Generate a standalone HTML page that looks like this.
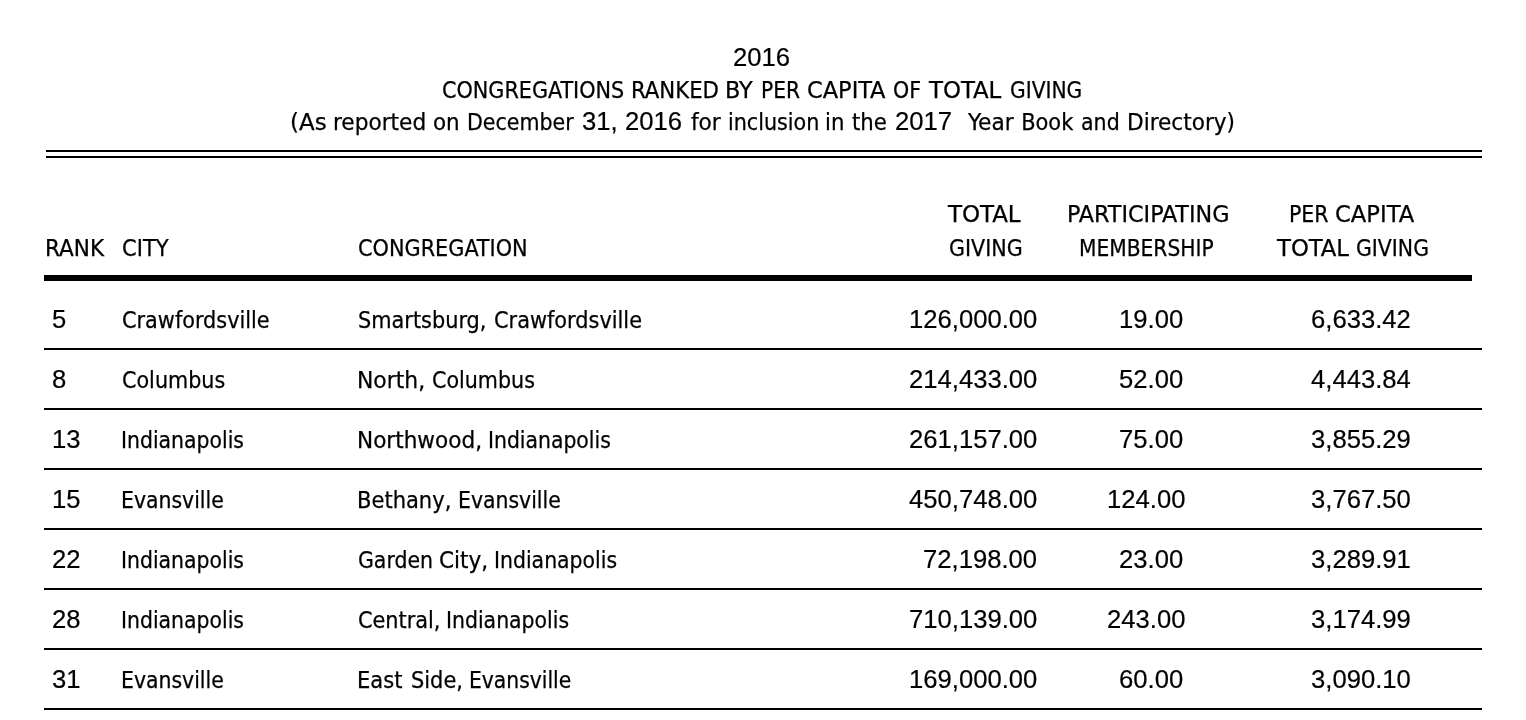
<!DOCTYPE html>
<html lang="en">
<head>
<meta charset="utf-8">
<title>2016 Congregations Ranked by Per Capita of Total Giving</title>
<style>
html,body{margin:0;padding:0;background:#fff;}
body{width:1526px;height:720px;position:relative;overflow:hidden;color:#000;}
.t{position:absolute;white-space:pre;font-size:23.3px;line-height:28px;height:28px;transform-origin:0 0;}
.caps,.text{font-family:"DejaVu Sans Condensed", "DejaVu Sans", "Liberation Sans", sans-serif;-webkit-text-stroke:0.25px #000;}
.num{font-family:"Liberation Sans", "DejaVu Sans", sans-serif;font-size:25px;-webkit-text-stroke:0.2px #000;}
.r{position:absolute;background:#000;}
</style>
</head>
<body>
<div class="r" style="left:46px;top:150px;width:1436px;height:2px"></div>
<div class="r" style="left:46px;top:156px;width:1436px;height:2px"></div>
<div class="r" style="left:44px;top:275px;width:1428px;height:6px"></div>
<div class="r" style="left:44px;top:348px;width:1438px;height:2px"></div>
<div class="r" style="left:44px;top:408px;width:1438px;height:2px"></div>
<div class="r" style="left:44px;top:468px;width:1438px;height:2px"></div>
<div class="r" style="left:44px;top:528px;width:1438px;height:2px"></div>
<div class="r" style="left:44px;top:588px;width:1438px;height:2px"></div>
<div class="r" style="left:44px;top:648px;width:1438px;height:2px"></div>
<div class="r" style="left:44px;top:708px;width:1438px;height:2px"></div>
<header>
<div class="title">
<span class="t num" style="left:733.40px;top:42.80px;transform:scaleX(1.0253)">2016</span>
</div>
<div class="title">
<span class="t caps" style="left:442.03px;top:75.80px;transform:scaleX(0.9902)">CONGREGATIONS</span>
<span class="t caps" style="left:631.39px;top:75.80px;transform:scaleX(1.0143)">RANKED</span>
<span class="t caps" style="left:725.27px;top:75.80px;transform:scaleX(1.0655)">BY</span>
<span class="t caps" style="left:760.69px;top:75.80px;transform:scaleX(0.9652)">PER</span>
<span class="t caps" style="left:806.65px;top:75.80px;transform:scaleX(1.0730)">CAPITA</span>
<span class="t caps" style="left:892.84px;top:75.80px;transform:scaleX(0.9824)">OF</span>
<span class="t caps" style="left:929.02px;top:75.80px;transform:scaleX(1.0910)">TOTAL</span>
<span class="t caps" style="left:1009.62px;top:75.80px;transform:scaleX(0.9661)">GIVING</span>
</div>
<div class="title">
<span class="t text" style="left:290.40px;top:108.00px;transform:scaleX(1.0952)">(As</span>
<span class="t text" style="left:333.41px;top:108.00px;transform:scaleX(1.0337)">reported</span>
<span class="t text" style="left:433.38px;top:108.00px;transform:scaleX(1.0212)">on</span>
<span class="t text" style="left:466.85px;top:108.00px;transform:scaleX(0.9807)">December</span>
<span class="t num" style="left:581.64px;top:107.30px;transform:scaleX(1.0253)">31,</span>
<span class="t num" style="left:625.13px;top:107.30px;transform:scaleX(1.0253)">2016</span>
<span class="t text" style="left:691.49px;top:108.00px;transform:scaleX(1.0337)">for</span>
<span class="t text" style="left:727.98px;top:108.00px;transform:scaleX(0.9869)">inclusion</span>
<span class="t text" style="left:825.22px;top:108.00px;transform:scaleX(1.0141)">in</span>
<span class="t text" style="left:851.80px;top:108.00px;transform:scaleX(1.0137)">the</span>
<span class="t num" style="left:894.85px;top:107.30px;transform:scaleX(1.0253)">2017</span>
<span class="t text" style="left:968.10px;top:108.00px;transform:scaleX(1.0363)">Year</span>
<span class="t text" style="left:1021.18px;top:108.00px;transform:scaleX(1.0000)">Book</span>
<span class="t text" style="left:1081.40px;top:108.00px;transform:scaleX(0.9807)">and</span>
<span class="t text" style="left:1126.69px;top:108.00px;transform:scaleX(1.0316)">Directory)</span>
</div>
</header>
<main>
<div class="head">
<span class="t caps" style="left:44.99px;top:234.00px;transform:scaleX(1.0296)">RANK</span>
<span class="t caps" style="left:122.01px;top:234.00px;transform:scaleX(1.0041)">CITY</span>
<span class="t caps" style="left:357.82px;top:234.00px;transform:scaleX(0.9936)">CONGREGATION</span>
<span class="t caps" style="left:948.23px;top:200.00px;transform:scaleX(1.0955)">TOTAL</span>
<span class="t caps" style="left:949.01px;top:234.00px;transform:scaleX(0.9842)">GIVING</span>
<span class="t caps" style="left:1066.68px;top:200.00px;transform:scaleX(1.0639)">PARTICIPATING</span>
<span class="t caps" style="left:1078.80px;top:234.00px;transform:scaleX(0.9654)">MEMBERSHIP</span>
<span class="t caps" style="left:1289.24px;top:200.00px;transform:scaleX(0.9789)">PER</span>
<span class="t caps" style="left:1335.29px;top:200.00px;transform:scaleX(1.0825)">CAPITA</span>
<span class="t caps" style="left:1277.02px;top:234.00px;transform:scaleX(1.0859)">TOTAL</span>
<span class="t caps" style="left:1356.17px;top:234.00px;transform:scaleX(0.9749)">GIVING</span>
</div>
<div class="row">
<span class="t num" style="left:52.10px;top:305.30px;transform:scaleX(1.0253)">5</span>
<span class="t text" style="left:122.05px;top:306.00px;transform:scaleX(0.9935)">Crawfordsville</span>
<span class="t text" style="left:357.64px;top:306.00px;transform:scaleX(0.9953)">Smartsburg,</span>
<span class="t text" style="left:494.09px;top:306.00px;transform:scaleX(0.9956)">Crawfordsville</span>
<span class="t num" style="left:909.04px;top:305.30px;transform:scaleX(1.0253)">126,000.00</span>
<span class="t num" style="left:1119.04px;top:305.30px;transform:scaleX(1.0253)">19.00</span>
<span class="t num" style="left:1310.89px;top:305.30px;transform:scaleX(1.0253)">6,633.42</span>
</div>
<div class="row">
<span class="t num" style="left:52.10px;top:365.30px;transform:scaleX(1.0253)">8</span>
<span class="t text" style="left:121.79px;top:366.00px;transform:scaleX(0.9877)">Columbus</span>
<span class="t text" style="left:357.20px;top:366.00px;transform:scaleX(1.0434)">North,</span>
<span class="t text" style="left:431.80px;top:366.00px;transform:scaleX(0.9848)">Columbus</span>
<span class="t num" style="left:909.04px;top:365.30px;transform:scaleX(1.0253)">214,433.00</span>
<span class="t num" style="left:1119.04px;top:365.30px;transform:scaleX(1.0253)">52.00</span>
<span class="t num" style="left:1310.89px;top:365.30px;transform:scaleX(1.0253)">4,443.84</span>
</div>
<div class="row">
<span class="t num" style="left:52.10px;top:425.30px;transform:scaleX(1.0253)">13</span>
<span class="t text" style="left:121.23px;top:426.00px;transform:scaleX(0.9736)">Indianapolis</span>
<span class="t text" style="left:357.26px;top:426.00px;transform:scaleX(1.0301)">Northwood,</span>
<span class="t text" style="left:487.92px;top:426.00px;transform:scaleX(0.9723)">Indianapolis</span>
<span class="t num" style="left:909.04px;top:425.30px;transform:scaleX(1.0253)">261,157.00</span>
<span class="t num" style="left:1119.04px;top:425.30px;transform:scaleX(1.0253)">75.00</span>
<span class="t num" style="left:1310.89px;top:425.30px;transform:scaleX(1.0253)">3,855.29</span>
</div>
<div class="row">
<span class="t num" style="left:52.10px;top:485.30px;transform:scaleX(1.0253)">15</span>
<span class="t text" style="left:121.23px;top:486.00px;transform:scaleX(0.9743)">Evansville</span>
<span class="t text" style="left:357.18px;top:486.00px;transform:scaleX(1.0041)">Bethany,</span>
<span class="t text" style="left:458.23px;top:486.00px;transform:scaleX(0.9743)">Evansville</span>
<span class="t num" style="left:909.04px;top:485.30px;transform:scaleX(1.0253)">450,748.00</span>
<span class="t num" style="left:1106.84px;top:485.30px;transform:scaleX(1.0253)">124.00</span>
<span class="t num" style="left:1310.89px;top:485.30px;transform:scaleX(1.0253)">3,767.50</span>
</div>
<div class="row">
<span class="t num" style="left:52.10px;top:545.30px;transform:scaleX(1.0253)">22</span>
<span class="t text" style="left:121.23px;top:546.00px;transform:scaleX(0.9736)">Indianapolis</span>
<span class="t text" style="left:357.61px;top:546.00px;transform:scaleX(0.9771)">Garden</span>
<span class="t text" style="left:439.42px;top:546.00px;transform:scaleX(1.0316)">City,</span>
<span class="t text" style="left:493.83px;top:546.00px;transform:scaleX(0.9747)">Indianapolis</span>
<span class="t num" style="left:923.36px;top:545.30px;transform:scaleX(1.0253)">72,198.00</span>
<span class="t num" style="left:1119.04px;top:545.30px;transform:scaleX(1.0253)">23.00</span>
<span class="t num" style="left:1310.89px;top:545.30px;transform:scaleX(1.0253)">3,289.91</span>
</div>
<div class="row">
<span class="t num" style="left:52.10px;top:605.30px;transform:scaleX(1.0253)">28</span>
<span class="t text" style="left:121.23px;top:606.00px;transform:scaleX(0.9736)">Indianapolis</span>
<span class="t text" style="left:357.71px;top:606.00px;transform:scaleX(0.9940)">Central,</span>
<span class="t text" style="left:446.26px;top:606.00px;transform:scaleX(0.9745)">Indianapolis</span>
<span class="t num" style="left:909.04px;top:605.30px;transform:scaleX(1.0253)">710,139.00</span>
<span class="t num" style="left:1106.84px;top:605.30px;transform:scaleX(1.0253)">243.00</span>
<span class="t num" style="left:1310.89px;top:605.30px;transform:scaleX(1.0253)">3,174.99</span>
</div>
<div class="row">
<span class="t num" style="left:52.10px;top:665.30px;transform:scaleX(1.0253)">31</span>
<span class="t text" style="left:121.23px;top:666.00px;transform:scaleX(0.9743)">Evansville</span>
<span class="t text" style="left:357.35px;top:666.00px;transform:scaleX(1.0041)">East</span>
<span class="t text" style="left:410.88px;top:666.00px;transform:scaleX(0.9994)">Side,</span>
<span class="t text" style="left:468.92px;top:666.00px;transform:scaleX(0.9693)">Evansville</span>
<span class="t num" style="left:909.04px;top:665.30px;transform:scaleX(1.0253)">169,000.00</span>
<span class="t num" style="left:1119.04px;top:665.30px;transform:scaleX(1.0253)">60.00</span>
<span class="t num" style="left:1310.89px;top:665.30px;transform:scaleX(1.0253)">3,090.10</span>
</div>
</main>
</body>
</html>
